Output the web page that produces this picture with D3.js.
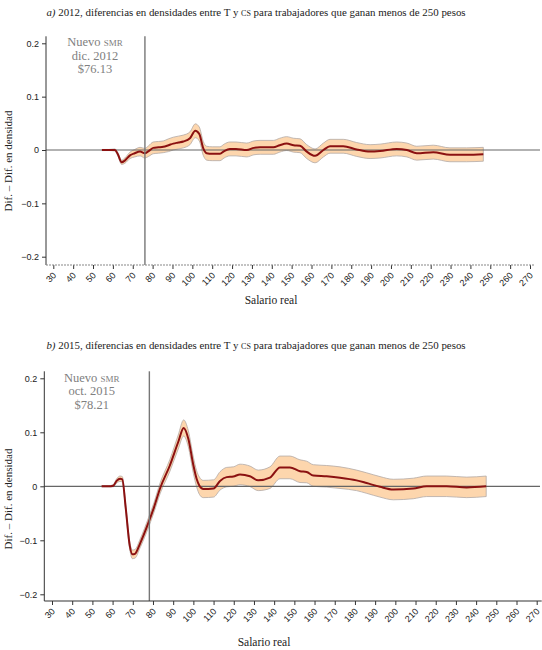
<!DOCTYPE html>
<html>
<head>
<meta charset="utf-8">
<script src="https://cdn.jsdelivr.net/npm/d3@7"></script>
<style>
  body { margin: 0; background: #fff; }
  svg { display: block; }
  .serif { font-family: "Liberation Serif", "DejaVu Serif", serif; }
  .tick text { font-family: "Liberation Sans", Arial, sans-serif; font-size: 9px; fill: #222; }
</style>
</head>
<body>
<script>
// wage values (x) and estimated difference in densities, with half width of the band
var salarioA = [54.5, 58, 61, 62.5, 64.4, 66, 68.6, 71, 73.7, 76, 78, 80.3, 83, 85.4, 88, 90.4, 93, 95.5, 98.8,
  101.5, 103.5, 105.5, 107.2, 110, 113.9, 116, 118.9, 122, 127.4, 131, 134.1, 140.8, 144, 147.5, 151, 154.2,
  157.6, 161.8, 166, 169.3, 176, 182.7, 189.5, 194.5, 202.9, 208, 213, 221.3, 229.7, 238.1, 246.5];
var difA = [0, 0, 0, -0.008, -0.023, -0.02, -0.01, -0.006, -0.003, -0.006, -0.002, 0.004, 0.005, 0.006, 0.009,
  0.012, 0.014, 0.016, 0.022, 0.036, 0.03, 0.003, -0.006, -0.007, -0.007, -0.002, 0.002, 0.002, 0, 0.004,
  0.005, 0.005, 0.009, 0.012, 0.009, 0.008, -0.003, -0.011, 0, 0.007, 0.007, 0.001, -0.003, -0.002, 0.002,
  0, -0.006, -0.004, -0.009, -0.009, -0.008];
var bandA = [0.001, 0.001, 0.002, 0.003, 0.004, 0.005, 0.006, 0.007, 0.008, 0.009, 0.01, 0.011, 0.011, 0.011,
  0.012, 0.012, 0.012, 0.012, 0.012, 0.013, 0.013, 0.013, 0.013, 0.013, 0.013, 0.013, 0.013, 0.013, 0.013,
  0.013, 0.013, 0.013, 0.013, 0.013, 0.013, 0.013, 0.013, 0.013, 0.013, 0.013, 0.013, 0.013, 0.013, 0.013,
  0.013, 0.013, 0.013, 0.013, 0.013, 0.013, 0.013];

var salarioB = [54.6, 58, 60.3, 62, 63.7, 64.8, 66.5, 68.5, 69.8, 71.1, 73.6, 77.9, 80.5, 83.5, 88.4, 92.5,
  95.2, 97.5, 100, 101.6, 103, 104.9, 110, 113.2, 116.5, 119.8, 123.1, 128, 132.1, 137.9, 142.9, 147.8,
  152.8, 156.1, 159.4, 166, 172.6, 180.8, 185.8, 192.4, 199, 208.9, 215.5, 225.4, 235.3, 245];
var difB = [0, 0, 0.001, 0.01, 0.014, 0.013, -0.04, -0.11, -0.126, -0.125, -0.106, -0.066, -0.039, -0.004,
  0.039, 0.082, 0.108, 0.088, 0.039, 0.014, 0.001, -0.005, -0.004, 0.01, 0.017, 0.018, 0.022, 0.0185, 0.011,
  0.016, 0.035, 0.035, 0.028, 0.0265, 0.02, 0.0185, 0.016, 0.011, 0.006, -0.001, -0.006, -0.004, 0, 0, -0.002, 0];
var bandB = [0.001, 0.001, 0.002, 0.004, 0.005, 0.005, 0.006, 0.007, 0.008, 0.008, 0.008, 0.009, 0.009, 0.01,
  0.011, 0.013, 0.015, 0.015, 0.015, 0.015, 0.016, 0.016, 0.016, 0.017, 0.018, 0.018, 0.019, 0.019, 0.019,
  0.02, 0.021, 0.021, 0.021, 0.02, 0.02, 0.02, 0.02, 0.019, 0.019, 0.019, 0.019, 0.019, 0.019, 0.019, 0.019, 0.019];

var xTicks = d3.range(30, 271, 10);
var yTicks = [-0.2, -0.1, 0, 0.1, 0.2];

var svg = d3.select("body").append("svg")
  .attr("width", 542)
  .attr("height", 650);

function drawPanel(cfg) {
  var g = svg.append("g");

  var x = d3.scaleLinear().domain([30, 270]).range([cfg.x30, cfg.x270]);
  var y = d3.scaleLinear().domain([-0.2, 0.2]).range([cfg.yMin, cfg.yMax]);
  var yTop = cfg.yMax - 7;
  var yBot = cfg.axisY;

  var pts = cfg.xs.map(function(v, i) { return { x: v, d: cfg.ys[i], h: cfg.hs[i] }; });

  // title
  var t = g.append("text").attr("class", "serif")
    .attr("x", 256).attr("y", cfg.titleY)
    .attr("text-anchor", "middle")
    .attr("font-size", "10.9px")
    .attr("fill", "#222");
  t.append("tspan").attr("font-style", "italic").text(cfg.letter + ")");
  t.append("tspan").text(" " + cfg.year + ", diferencias en densidades entre T y ");
  t.append("tspan").style("font-variant", "small-caps").text("cs");
  t.append("tspan").text(" para trabajadores que ganan menos de 250 pesos");

  // band
  var area = d3.area()
    .x(function(d) { return x(d.x); })
    .y0(function(d) { return y(d.d - d.h); })
    .y1(function(d) { return y(d.d + d.h); })
    .curve(d3.curveMonotoneX);
  g.append("path").datum(pts)
    .attr("d", area)
    .attr("fill", "#fdd6ad")
    .attr("stroke", "#b3a9a6")
    .attr("stroke-width", 0.8);

  // zero line
  g.append("line")
    .attr("x1", cfg.axisX).attr("x2", 540)
    .attr("y1", y(0)).attr("y2", y(0))
    .attr("stroke", "#666").attr("stroke-width", 1.2);

  // estimate
  var line = d3.line()
    .x(function(d) { return x(d.x); })
    .y(function(d) { return y(d.d); })
    .curve(d3.curveMonotoneX);
  g.append("path").datum(pts)
    .attr("d", line)
    .attr("fill", "none")
    .attr("stroke", "#8b1111")
    .attr("stroke-width", 2);

  // new minimum wage line
  g.append("line")
    .attr("x1", x(cfg.smr)).attr("x2", x(cfg.smr))
    .attr("y1", yTop).attr("y2", yBot)
    .attr("stroke", "#777").attr("stroke-width", 1.4);

  var ann = g.append("g").attr("class", "serif")
    .attr("font-size", "12.5px").attr("fill", "#808080")
    .attr("text-anchor", "middle");
  var a1 = ann.append("text").attr("x", cfg.annX).attr("y", cfg.annY);
  a1.append("tspan").text("Nuevo ");
  a1.append("tspan").style("font-variant", "small-caps").text("smr");
  ann.append("text").attr("x", cfg.annX).attr("y", cfg.annY + 13.5).text(cfg.fecha);
  ann.append("text").attr("x", cfg.annX).attr("y", cfg.annY + 27).text("$" + cfg.smr.toFixed(2));

  // y axis
  var yAxis = g.append("g")
    .attr("transform", "translate(" + cfg.axisX + ",0)")
    .call(d3.axisLeft(y).tickValues(yTicks).tickSize(4).tickFormat(function(d) {
      return d === 0 ? "0" : d3.format(".1f")(d);
    }));
  yAxis.select(".domain").remove();
  yAxis.selectAll(".tick line").attr("stroke", "#333");
  g.append("line")
    .attr("x1", cfg.axisX).attr("x2", cfg.axisX)
    .attr("y1", yTop).attr("y2", yBot)
    .attr("stroke", "#333").attr("stroke-width", 1);

  // x axis
  var xAxis = g.append("g")
    .attr("transform", "translate(0," + cfg.axisY + ")")
    .call(d3.axisBottom(x).tickValues(xTicks).tickSize(4));
  xAxis.select(".domain").remove();
  xAxis.selectAll(".tick line").attr("stroke", "#333");
  xAxis.selectAll(".tick text")
    .attr("text-anchor", "end")
    .attr("dy", null)
    .attr("y", 0)
    .attr("transform", "translate(3,11) rotate(-45)");
  g.append("line")
    .attr("x1", cfg.axisX).attr("x2", x(270) + 5)
    .attr("y1", cfg.axisY).attr("y2", cfg.axisY)
    .attr("stroke", cfg.axisColor).attr("stroke-width", 1.2)
    .attr("stroke-dasharray", cfg.axisDash);

  // axis titles
  g.append("text").attr("class", "serif")
    .attr("transform", "translate(" + cfg.yLabX + "," + cfg.yLabY + ") rotate(-90)")
    .attr("text-anchor", "middle")
    .attr("font-size", "11px").attr("fill", "#222")
    .text("Dif. – Dif. en densidad");
  g.append("text").attr("class", "serif")
    .attr("x", cfg.xLabX).attr("y", cfg.xLabY)
    .attr("text-anchor", "middle")
    .attr("font-size", "11.5px").attr("fill", "#222")
    .text("Salario real");
}

drawPanel({
  letter: "a", year: 2012, titleY: 16,
  xs: salarioA, ys: difA, hs: bandA,
  x30: 53.3, x270: 530, yMin: 256.7, yMax: 43.3,
  axisX: 46, axisY: 265, axisColor: "#888", axisDash: "2,1",
  smr: 76.13, fecha: "dic. 2012", annX: 95, annY: 46,
  yLabX: 12, yLabY: 161, xLabX: 271, xLabY: 304
});

drawPanel({
  letter: "b", year: 2015, titleY: 349,
  xs: salarioB, ys: difB, hs: bandB,
  x30: 52, x270: 536.7, yMin: 594.3, yMax: 378.3,
  axisX: 44.3, axisY: 601, axisColor: "#333", axisDash: null,
  smr: 78.21, fecha: "oct. 2015", annX: 91.7, annY: 381.7,
  yLabX: 12, yLabY: 499, xLabX: 264, xLabY: 646
});
</script>
</body>
</html>
